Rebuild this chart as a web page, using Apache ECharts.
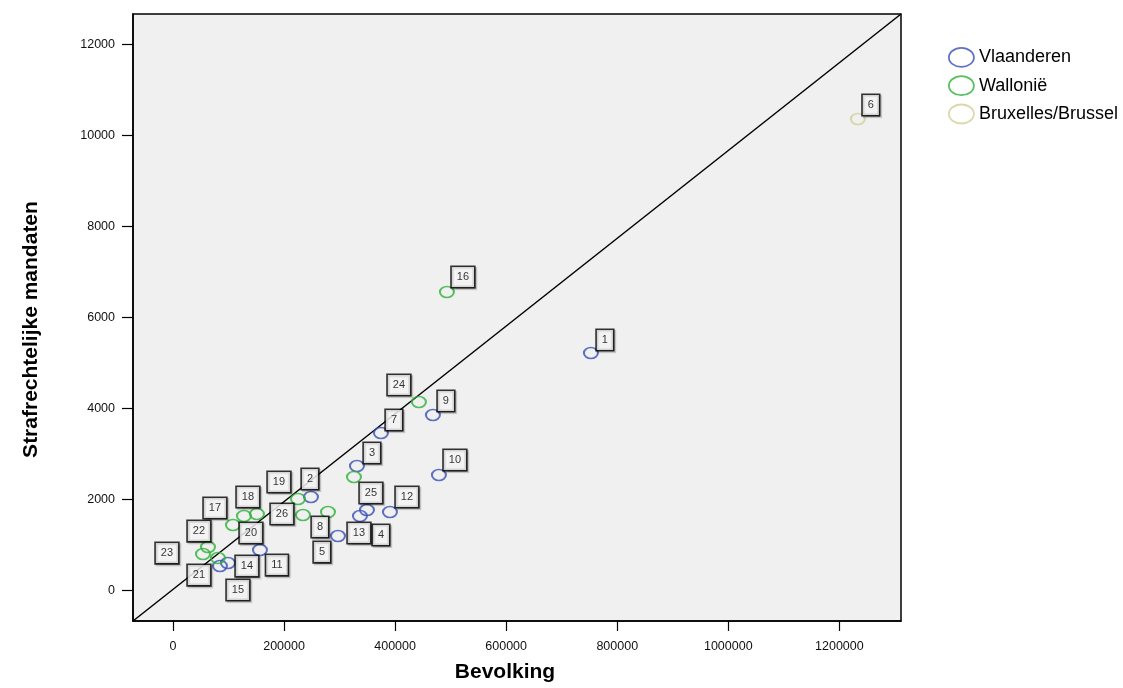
<!DOCTYPE html>
<html>
<head>
<meta charset="utf-8">
<script src="https://cdn.jsdelivr.net/npm/echarts@6/dist/echarts.min.js"></script>
<style>
html,body{margin:0;padding:0;background:#fff;}
#c{width:1123px;height:688px;}
</style>
</head>
<body>
<div id="c"></div>
<script>
// ---- data ----
const ids = [1,2,3,4,5,6,7,8,9,10,11,12,13,14,15,16,17,18,19,20,21,22,23,24,25,26];
const regions = ['Vlaanderen','Wallonië','Bruxelles/Brussel'];
const regionOf = ['Vlaanderen','Vlaanderen','Vlaanderen','Vlaanderen','Vlaanderen','Bruxelles/Brussel','Vlaanderen','Wallonië','Vlaanderen','Vlaanderen','Vlaanderen','Vlaanderen','Vlaanderen','Vlaanderen','Vlaanderen','Wallonië','Wallonië','Wallonië','Wallonië','Wallonië','Wallonië','Wallonië','Wallonië','Wallonië','Wallonië','Wallonië'];
const population = [752600,248500,331300,336700,297100,1233300,374500,279100,468100,478900,156600,390700,349300,99000,84600,493300,108000,127800,225100,151200,81000,63000,54000,442900,325900,234100];
const mandates = [5220,2052,2734,1634,1194,10366,3460,1722,3856,2536,886,1722,1766,600,535,6561,1436,1634,2008,1678,710,952,798,4142,2492,1656];
const xTicks = [0,200000,400000,600000,800000,1000000,1200000];
const yTicks = [0,2000,4000,6000,8000,10000,12000];
const xRange = [-72000, 1311000];
const yRange = [-675, 12676];
const refLine = [[-72000,-675],[1311000,12676]];

// ---- layout (label box offsets in px, per id) ----
const labelOffsets = [[14,-13],[-1,-18],[15,-13],[21,19],[-16,16],[13,-14],[13,-13],[-8,15],[13,-14],[16,-15],[17,15],[17,-15],[-8,23],[19,3],[18,24],[16,-15],[-18,-17],[4,-19],[-19,-17],[-6,19],[-19,17],[-9,-16],[-36,-1],[-20,-17],[17,16],[-21,-1]];
const colors = {'Vlaanderen':'#3850b4','Wallonië':'#2db238','Bruxelles/Brussel':'#d5cd97'};
const FONT = 'Liberation Sans, Arial, sans-serif';
const ELLIPSE = 'path://M0,50 A50,50 0 1,1 100,50 A50,50 0 1,1 0,50 Z';

const scatterSeries = regions.map(r => {
  const data = [];
  ids.forEach((id, i) => {
    if (regionOf[i] !== r) return;
    data.push({
      value: [population[i], mandates[i]],
      name: String(id),
      label: { offset: labelOffsets[i] }
    });
  });
  return {
    name: r,
    type: 'scatter',
    symbol: ELLIPSE,
    symbolSize: [14, 11],
    symbolKeepAspect: false,
    itemStyle: { color: 'transparent', borderColor: colors[r], borderWidth: 1.8 },
    emphasis: { disabled: true },
    z: 3,
    label: {
      show: true,
      position: 'inside',
      formatter: p => p.name,
      fontFamily: FONT,
      fontSize: 11,
      lineHeight: 12,
      color: '#000',
      backgroundColor: '#fff',
      borderColor: '#000',
      borderWidth: 1.6,
      padding: [4, 5, 4, 5],
      shadowColor: 'rgba(0,0,0,0.25)',
      shadowOffsetX: 1.5,
      shadowOffsetY: 1.5,
      shadowBlur: 1
    },
    data: data
  };
});

const chart = echarts.init(document.getElementById('c'), null, {renderer: 'canvas'});
chart.setOption({
  animation: false,
  backgroundColor: '#fff',
  textStyle: { fontFamily: FONT },
  grid: {
    left: 133, top: 14, right: 222, bottom: 67,
    show: true, backgroundColor: '#f0f0f0', borderColor: '#000', borderWidth: 1.5,
    containLabel: false
  },
  legend: {
    orient: 'vertical',
    left: 948, top: 47,
    padding: 0,
    itemWidth: 25, itemHeight: 19, itemGap: 7.5,
    symbolKeepAspect: false,
    data: regions,
    itemStyle: { borderWidth: 1.8 },
    textStyle: { fontFamily: FONT, fontSize: 18, lineHeight: 20, color: '#000' }
  },
  xAxis: {
    type: 'value',
    min: xRange[0], max: xRange[1],
    name: 'Bevolking',
    nameLocation: 'middle',
    nameGap: 41,
    nameTextStyle: { fontFamily: FONT, fontSize: 21, fontWeight: 'bold', color: '#000', padding: [0, 24, 0, 0] },
    axisLine: { show: true, onZero: false, lineStyle: { color: '#000', width: 1.5 } },
    axisTick: { show: true, inside: false, length: 10, lineStyle: { color: '#000', width: 1.2 }, customValues: xTicks },
    axisLabel: { fontFamily: FONT, fontSize: 12.5, color: '#111', margin: 19, customValues: xTicks, formatter: v => String(v) },
    splitLine: { show: false }
  },
  yAxis: {
    type: 'value',
    min: yRange[0], max: yRange[1],
    name: 'Strafrechtelijke mandaten',
    nameLocation: 'middle',
    nameRotate: 90,
    nameGap: 91,
    nameTextStyle: { fontFamily: FONT, fontSize: 21, fontWeight: 'bold', color: '#000', padding: [0, 24, 0, 0] },
    axisLine: { show: true, onZero: false, lineStyle: { color: '#000', width: 1.5 } },
    axisTick: { show: true, inside: false, length: 11, lineStyle: { color: '#000', width: 1.2 }, customValues: yTicks },
    axisLabel: { fontFamily: FONT, fontSize: 12.5, color: '#111', margin: 18, customValues: yTicks, formatter: v => String(v) },
    splitLine: { show: false }
  },
  series: [
    {
      type: 'line',
      data: refLine,
      symbol: 'none',
      silent: true,
      lineStyle: { color: '#000', width: 1.5 },
      z: 2,
      legendHoverLink: false
    }
  ].concat(scatterSeries)
});
</script>
</body>
</html>
